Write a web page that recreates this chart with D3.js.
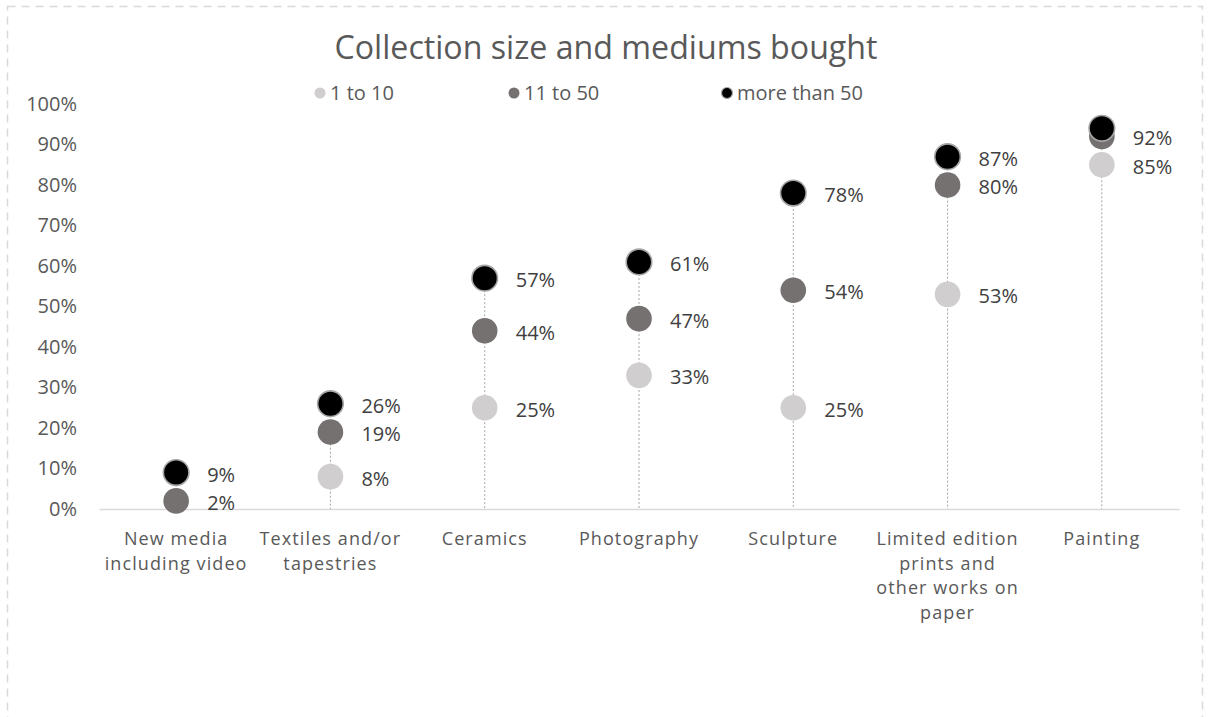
<!DOCTYPE html>
<html>
<head>
<meta charset="utf-8">
<script src="https://cdn.jsdelivr.net/npm/d3@7"></script>
<style>
  html, body { margin: 0; padding: 0; background: #fff; }
  svg { display: block; font-family: "Open Sans", Lato, sans-serif; }
</style>
</head>
<body>
<svg id="chart" width="1208" height="717"></svg>
<script>
// Mediums bought, by collection size (share of collectors)
const categories = [
  "New media\nincluding video",
  "Textiles and/or\ntapestries",
  "Ceramics",
  "Photography",
  "Sculpture",
  "Limited edition\nprints and\nother works on\npaper",
  "Painting"
];
const seriesNames = ["1 to 10", "11 to 50", "more than 50"];
const small  = [null, 8, 25, 33, 25, 53, 85];   // 1 to 10
const medium = [2, 19, 44, 47, 54, 80, 92];     // 11 to 50
const large  = [9, 26, 57, 61, 78, 87, 94];     // more than 50
const yTicks = [0, 10, 20, 30, 40, 50, 60, 70, 80, 90, 100];

const series = [
  { name: seriesNames[0], values: small,  fill: "#d0cece", stroke: "none" },
  { name: seriesNames[1], values: medium, fill: "#767171", stroke: "none" },
  { name: seriesNames[2], values: large,  fill: "#000000", stroke: "#a6a6a6" }
];

const FONT = "'Open Sans', Lato, sans-serif";
const svg = d3.select("#chart");

// outer dashed frame
svg.append("rect")
  .attr("x", 7.5).attr("y", 6.5)
  .attr("width", 1195).attr("height", 760)
  .attr("fill", "none")
  .attr("stroke", "#d9d9d9")
  .attr("stroke-width", 1.5)
  .attr("stroke-dasharray", "8,6");

const x = d3.scaleBand().domain(categories).range([99, 1179]).padding(0);
const y = d3.scaleLinear().domain([0, 100]).range([509, 104]);
const cx = c => x(c) + x.bandwidth() / 2;

// title
svg.append("text")
  .attr("x", 606).attr("y", 59)
  .attr("text-anchor", "middle")
  .attr("fill", "#595959")
  .attr("font-size", 32)
  .attr("textLength", 543)
  .attr("lengthAdjust", "spacingAndGlyphs")
  .text("Collection size and mediums bought");

// legend
const legendX = [320, 514, 727];
const legend = svg.append("g").selectAll("g")
  .data(series).join("g")
  .attr("transform", (d, i) => `translate(${legendX[i]},93)`);
legend.append("circle")
  .attr("r", 5.5)
  .attr("fill", d => d.fill)
  .attr("stroke", d => d.stroke)
  .attr("stroke-width", 1.2);
legend.append("text")
  .attr("x", 10).attr("dy", "0.35em")
  .attr("fill", "#595959")
  .attr("font-size", 20)
  .text(d => d.name);

// y axis (labels only)
const yAxis = svg.append("g")
  .attr("transform", "translate(77,0)")
  .call(d3.axisLeft(y).tickValues(yTicks).tickFormat(d => d + "%").tickSize(0).tickPadding(0));
yAxis.select(".domain").remove();
yAxis.selectAll("text")
  .attr("fill", "#595959")
  .attr("font-size", 20)
  .attr("font-family", FONT);

// x axis line and category labels
const xAxis = svg.append("g")
  .attr("transform", `translate(0,${y(0)})`)
  .call(d3.axisBottom(x).tickSize(0).tickFormat(""));
xAxis.select(".domain").attr("stroke", "#d9d9d9").attr("stroke-width", 1.5);

const catLabels = svg.append("g").selectAll("text")
  .data(categories).join("text")
  .attr("x", d => cx(d))
  .attr("y", 545)
  .attr("text-anchor", "middle")
  .attr("fill", "#595959")
  .attr("font-size", 18)
  .attr("letter-spacing", 1.1);
catLabels.selectAll("tspan")
  .data(d => d.split("\n").map(t => ({ t, c: d })))
  .join("tspan")
  .attr("x", d => cx(d.c))
  .attr("dy", (d, i) => i === 0 ? 0 : 24.7)
  .text(d => d.t);

// drop lines from each category's highest value to the axis
const tops = categories.map((c, i) => ({
  c, top: d3.max(series, s => s.values[i])
}));
svg.append("g").selectAll("line")
  .data(tops).join("line")
  .attr("x1", d => cx(d.c)).attr("x2", d => cx(d.c))
  .attr("y1", d => y(d.top)).attr("y2", y(0))
  .attr("stroke", "#a6a6a6")
  .attr("stroke-width", 1)
  .attr("stroke-dasharray", "2,2");

// markers
series.forEach(s => {
  svg.append("g").selectAll("circle")
    .data(categories.map((c, i) => ({ c, v: s.values[i] })).filter(d => d.v != null))
    .join("circle")
    .attr("cx", d => cx(d.c))
    .attr("cy", d => y(d.v))
    .attr("r", 12.8)
    .attr("fill", s.fill)
    .attr("stroke", s.stroke)
    .attr("stroke-width", 1.6);
});

// value labels, skipping any that would collide with one already placed
const placed = categories.map(() => []);
const labelData = [];
series.forEach(s => {
  s.values.forEach((v, i) => {
    if (v == null) return;
    const py = y(v);
    if (placed[i].some(p => Math.abs(p - py) < 14)) return;
    placed[i].push(py);
    labelData.push({ c: categories[i], v });
  });
});
svg.append("g").selectAll("text")
  .data(labelData).join("text")
  .attr("x", d => cx(d.c) + 31)
  .attr("y", d => y(d.v) + 2)
  .attr("dy", "0.35em")
  .attr("fill", "#404040")
  .attr("font-size", 20)
  .text(d => d.v + "%");
</script>
</body>
</html>
